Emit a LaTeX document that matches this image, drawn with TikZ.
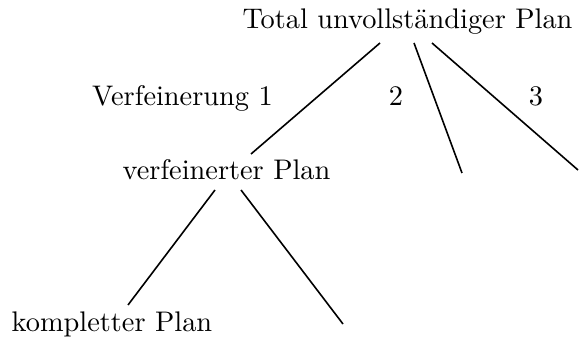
\documentclass[tikz,border=0pt]{standalone}
\newcommand{\bigtxt}[1]{\scalebox{2.835}{\fontsize{10}{12}\selectfont #1}}
\begin{document}
\begin{tikzpicture}[x=1pt,y=-1pt,
  lbl/.style={inner sep=0pt,anchor=base},
  edge/.style={line width=1.6pt}]
\useasboundingbox (0,0) rectangle (579,339);
\node[lbl] (root) at (407.5,29) {\bigtxt{Total unvollständiger Plan}};
\node[lbl] (v1) at (182.5,106) {\bigtxt{Verfeinerung 1}};
\node[lbl] (n2) at (396,106) {\bigtxt{2}};
\node[lbl] (n3) at (536,106) {\bigtxt{3}};
\node[lbl] (vp) at (226.5,180) {\bigtxt{verfeinerter Plan}};
\node[lbl] (kp) at (112,332) {\bigtxt{kompletter Plan}};
\coordinate (r1) at (380,43);
\coordinate (r2) at (414,43);
\coordinate (r3) at (432,43);
\coordinate (vtop) at (251,154);
\coordinate (e2) at (462,173);
\coordinate (e3) at (578,170);
\coordinate (p1) at (215,190);
\coordinate (p2) at (241,190);
\coordinate (ktop) at (128,305);
\coordinate (e4) at (343,324);
\draw[edge] (r1) -- (vtop);
\draw[edge] (r2) -- (e2);
\draw[edge] (r3) -- (e3);
\draw[edge] (p1) -- (ktop);
\draw[edge] (p2) -- (e4);
\end{tikzpicture}
\end{document}
